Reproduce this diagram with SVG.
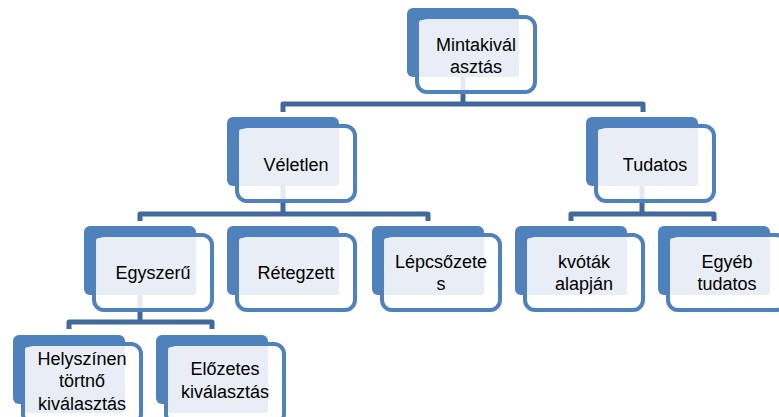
<svg xmlns="http://www.w3.org/2000/svg" width="779" height="417" viewBox="0 0 779 417">
<style>
.back{fill:#4F81BD}
.frame{fill:#FFFFFF;fill-opacity:0.86;stroke:#4F81BD;stroke-width:4}
.tbg{fill:#E9EEF6}
.lbl{font-family:"Liberation Sans",Arial,sans-serif;font-size:18px;fill:#000000;text-anchor:middle}
.conn{fill:none;stroke:#41699E;stroke-width:5;stroke-linejoin:round}
</style>
<rect width="779" height="417" fill="#FFFFFF"/>
<g id="connectors">
<path class="conn" d="M463,76 V104 M283,112 V104 H643 V112"/>
<path class="conn" d="M283,185 V214 M140,221 V214 H428 V221"/>
<path class="conn" d="M642,185 V214 M571,221 V214 H714 V221"/>
<path class="conn" d="M140,293 V322 M69,329 V322 H212 V329"/>
</g>
<g id="n-mintakivalasztas" transform="translate(407,8)">
<rect class="back" width="112" height="69" rx="6"/>
<rect class="frame" x="10" y="9" width="118" height="75" rx="10"/>
<rect class="tbg" x="12" y="12" width="100" height="57" rx="3"/>
<text class="lbl" x="69" y="43">Mintakivál</text>
<text class="lbl" x="69" y="65">asztás</text>
</g>
<g id="n-veletlen" transform="translate(227,117)">
<rect class="back" width="112" height="69" rx="6"/>
<rect class="frame" x="10" y="9" width="118" height="75" rx="10"/>
<rect class="tbg" x="12" y="12" width="100" height="57" rx="3"/>
<text class="lbl" x="69" y="54">Véletlen</text>
</g>
<g id="n-tudatos" transform="translate(586,117)">
<rect class="back" width="112" height="69" rx="6"/>
<rect class="frame" x="10" y="9" width="118" height="75" rx="10"/>
<rect class="tbg" x="12" y="12" width="100" height="57" rx="3"/>
<text class="lbl" x="69" y="54">Tudatos</text>
</g>
<g id="n-egyszeru" transform="translate(84,226)">
<rect class="back" width="112" height="69" rx="6"/>
<rect class="frame" x="10" y="9" width="118" height="75" rx="10"/>
<rect class="tbg" x="12" y="12" width="100" height="57" rx="3"/>
<text class="lbl" x="69" y="53">Egyszerű</text>
</g>
<g id="n-retegzett" transform="translate(227,226)">
<rect class="back" width="112" height="69" rx="6"/>
<rect class="frame" x="10" y="9" width="118" height="75" rx="10"/>
<rect class="tbg" x="12" y="12" width="100" height="57" rx="3"/>
<text class="lbl" x="69" y="53">Rétegzett</text>
</g>
<g id="n-lepcsozetes" transform="translate(372,226)">
<rect class="back" width="112" height="69" rx="6"/>
<rect class="frame" x="10" y="9" width="118" height="75" rx="10"/>
<rect class="tbg" x="12" y="12" width="100" height="57" rx="3"/>
<text class="lbl" x="69" y="42">Lépcsőzete</text>
<text class="lbl" x="69" y="64">s</text>
</g>
<g id="n-kvotak" transform="translate(515,226)">
<rect class="back" width="112" height="69" rx="6"/>
<rect class="frame" x="10" y="9" width="118" height="75" rx="10"/>
<rect class="tbg" x="12" y="12" width="100" height="57" rx="3"/>
<text class="lbl" x="69" y="42">kvóták</text>
<text class="lbl" x="69" y="64">alapján</text>
</g>
<g id="n-egyeb" transform="translate(658,226)">
<rect class="back" width="112" height="69" rx="6"/>
<rect class="frame" x="10" y="9" width="118" height="75" rx="10"/>
<rect class="tbg" x="12" y="12" width="100" height="57" rx="3"/>
<text class="lbl" x="69" y="42">Egyéb</text>
<text class="lbl" x="69" y="64">tudatos</text>
</g>
<g id="n-helyszinen" transform="translate(13,335)">
<rect class="back" width="112" height="69" rx="6"/>
<rect class="frame" x="10" y="9" width="118" height="80" rx="10"/>
<rect class="tbg" x="12" y="12" width="100" height="66" rx="3"/>
<text class="lbl" x="69" y="30">Helyszínen</text>
<text class="lbl" x="69" y="52">törtnő</text>
<text class="lbl" x="69" y="75">kiválasztás</text>
</g>
<g id="n-elozetes" transform="translate(156,335)">
<rect class="back" width="112" height="69" rx="6"/>
<rect class="frame" x="10" y="9" width="118" height="80" rx="10"/>
<rect class="tbg" x="12" y="12" width="100" height="66" rx="3"/>
<text class="lbl" x="69" y="40">Előzetes</text>
<text class="lbl" x="69" y="63">kiválasztás</text>
</g>
</svg>
